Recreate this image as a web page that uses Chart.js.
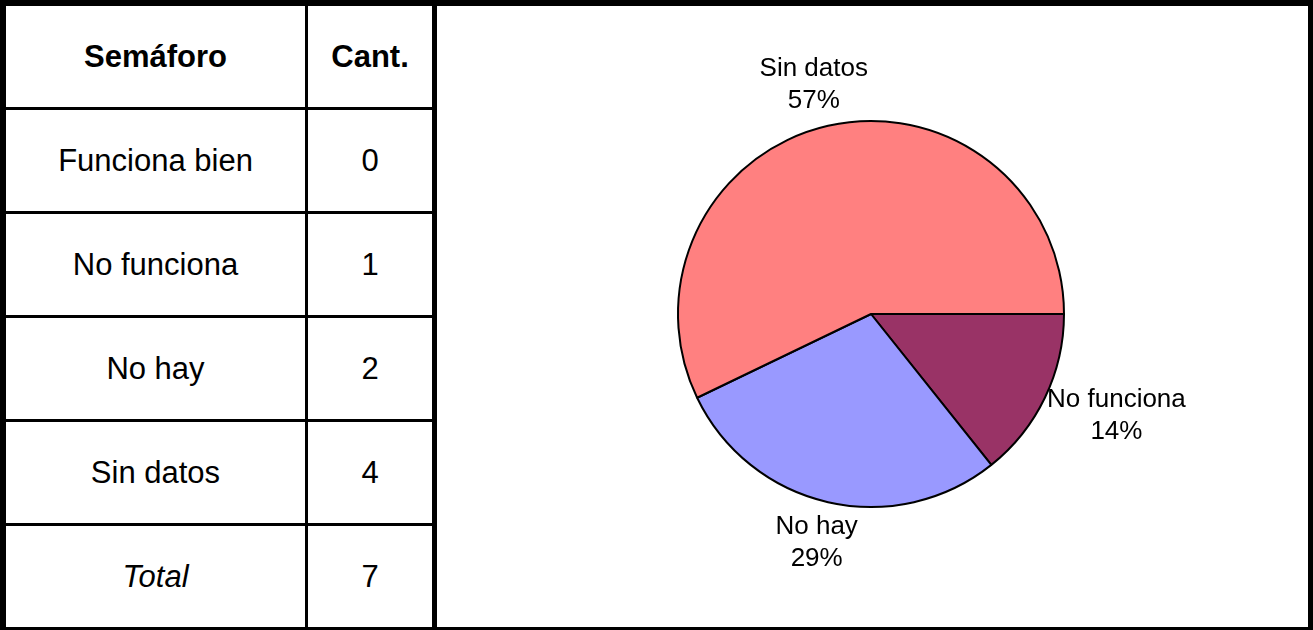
<!DOCTYPE html>
<html>
<head>
<meta charset="utf-8">
<script src="https://cdn.jsdelivr.net/npm/chart.js@4/dist/chart.umd.min.js"></script>
<style>
  html, body { margin: 0; padding: 0; background: #fff; }
  #frame { position: relative; width: 1313px; height: 630px; background: #000; overflow: hidden; }
  .cell {
    position: absolute; background: #fff;
    display: flex; align-items: center; justify-content: center;
    font-family: "Liberation Sans", Arial, sans-serif; font-size: 31px; color: #000;
  }
  .head { font-weight: bold; }
  .total { font-style: italic; }
  #chartBox { position: absolute; left: 437px; top: 6px; width: 871px; height: 621px; background: #fff; }
</style>
</head>
<body>
<div id="frame">
  <div id="chartBox"><canvas id="pie"></canvas></div>
</div>
<script>
// table + pie data
var headers = ["Semáforo", "Cant."];
var categories = ["Funciona bien", "No funciona", "No hay", "Sin datos"];
var counts = [0, 1, 2, 4];
var totalLabel = "Total";
var sliceColors = ["#FFFFCC", "#993366", "#9999FF", "#FF8080"];

// grid of the table (cells are white boxes on a black frame, gaps = lines)
var colX = [[6, 305], [308, 432]];
var rowTop = 6, rowH = 101, lineW = 3;

function addCell(text, col, row, cls) {
    let d = document.createElement("div");
    d.className = "cell" + (cls ? " " + cls : "");
    d.style.left = colX[col][0] + "px";
    d.style.width = (colX[col][1] - colX[col][0]) + "px";
    d.style.top = (rowTop + row * (rowH + lineW)) + "px";
    d.style.height = rowH + "px";
    d.textContent = text;
    document.getElementById("frame").appendChild(d);
}

addCell(headers[0], 0, 0, "head");
addCell(headers[1], 1, 0, "head");
categories.forEach((cat, i) => {
    addCell(cat, 0, i + 1);
    addCell(String(counts[i]), 1, i + 1);
});
let total = counts.reduce((a, b) => a + b, 0);
addCell(totalLabel, 0, categories.length + 1, "total");
addCell(String(total), 1, categories.length + 1);

// labels outside the slices, like excel does it
const outsideLabels = {
    id: "outsideLabels",
    afterDatasetsDraw(chart) {
        const ctx = chart.ctx;
        const meta = chart.getDatasetMeta(0);
        const data = chart.data.datasets[0].data;
        const sum = data.reduce((a, b) => a + b, 0);
        const lineH = 32;
        const gap = 10;
        ctx.save();
        ctx.font = "26px 'Liberation Sans', Arial, sans-serif";
        ctx.fillStyle = "#000";
        ctx.textAlign = "center";
        ctx.textBaseline = "middle";
        meta.data.forEach((arc, i) => {
            if (!data[i]) return;
            const p = arc.getProps(["x", "y", "startAngle", "endAngle", "outerRadius"], true);
            const mid = (p.startAngle + p.endAngle) / 2;
            const lines = [chart.data.labels[i], Math.round(data[i] / sum * 100) + "%"];
            const w = Math.max(...lines.map(t => ctx.measureText(t).width));
            const h = lineH * lines.length;
            const cx = p.x + Math.cos(mid) * (p.outerRadius + gap + w / 2);
            const cy = p.y + Math.sin(mid) * (p.outerRadius + gap + h / 2);
            lines.forEach((t, k) => {
                ctx.fillText(t, cx, cy - h / 2 + lineH / 2 + k * lineH);
            });
        });
        ctx.restore();
    }
};

let config = {
    type: "pie",
    data: {
        labels: categories,
        datasets: [{
            data: counts,
            backgroundColor: sliceColors,
            borderColor: "#000",
            borderWidth: 2,
        }]
    },
    options: {
        responsive: true,
        maintainAspectRatio: false,
        animation: false,
        rotation: 90,
        layout: {
            padding: { top: 114, bottom: 119, left: 200, right: 203 }
        },
        plugins: {
            legend: { display: false },
            tooltip: { enabled: false },
        }
    },
    plugins: [outsideLabels]
};

const pieChart = new Chart(document.getElementById("pie"), config);
</script>
</body>
</html>
